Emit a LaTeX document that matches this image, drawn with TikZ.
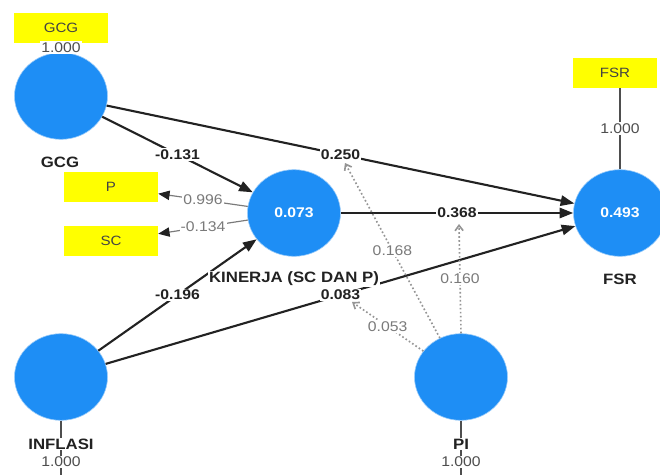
\documentclass[tikz,border=0pt]{standalone}
\usepackage{fontspec}
\setmainfont{Liberation Sans}[FakeStretch=1.12]
\usetikzlibrary{arrows.meta,shapes.geometric}
\definecolor{plsBlue}{HTML}{1E8EF5}
\definecolor{plsYellow}{HTML}{FFFF00}
\definecolor{plsInk}{HTML}{222222}
\definecolor{plsGray}{HTML}{7A7A7A}
\tikzset{
  latent/.style={ellipse,fill=plsBlue,draw=plsBlue!45,line width=.5pt,
    minimum width=2.79cm,minimum height=2.6cm,inner sep=0pt,
    text=white,font=\bfseries\fontsize{12}{14}\selectfont},
  indicator/.style={fill=plsYellow,minimum width=2.82cm,minimum height=.88cm,
    inner sep=0pt,text=plsInk!85,font=\fontsize{11.5}{13}\selectfont},
  varname/.style={fill=white,inner sep=1pt,text=plsInk,
    font=\bfseries\fontsize{12.8}{15}\selectfont},
  structural/.style={-{Triangle[length=4.1mm,width=3.1mm]},draw=plsInk,line width=1.8pt},
  outer/.style={-{Triangle[length=3.4mm,width=2.8mm,color=plsInk]},draw=plsGray,line width=1pt},
  loadline/.style={draw=plsInk!80,line width=.9pt},
  moderate/.style={-{Straight Barb[length=1.6mm,width=2.4mm]},draw=plsGray!80,
    dotted,line width=1.4pt},
  coef/.style={fill=white,inner sep=1pt,text=plsInk,
    font=\bfseries\fontsize{12}{14}\selectfont},
  loading/.style={fill=white,inner sep=1pt,text=plsGray,
    font=\fontsize{12}{14}\selectfont},
}
\begin{document}
\begin{tikzpicture}[x=0.03cm,y=-0.03cm]
  \useasboundingbox[fill=white] (0,0) rectangle (660,475);
  % latent variables
  \node[latent] (gcg) at (61,96) {};
  \node[latent] (kinerja) at (294,213) {0.073};
  \node[latent] (fsr) at (620,213) {0.493};
  \node[latent] (inflasi) at (61,377) {};
  \node[latent] (pi) at (461,377) {};
  % indicators
  \node[indicator] (gcgbox) at (61,28) {GCG};
  \node[indicator,minimum width=2.5cm] (fsrbox) at (615,73) {FSR};
  \node[indicator] (pbox) at (111,187) {P};
  \node[indicator] (scbox) at (111,241) {SC};
  \coordinate (inflasiout) at (61,480);
  \coordinate (piout) at (461,480);
  % outer model
  \draw[loadline] (gcgbox) -- (gcg) node[loading,midway,text=plsInk!80] {1.000};
  \draw[loadline] (fsrbox.south -| fsr.north) -- (fsr.north)
    node[loading,midway,text=plsInk!80] {1.000};
  \draw[loadline] (inflasi.south) -- (inflasiout);
  \draw[loadline] (pi.south) -- (piout);
  \draw[outer] (kinerja) -- node[loading] {0.996} (pbox);
  \draw[outer] (kinerja) -- node[loading] {-0.134} (scbox);
  % inner model
  \draw[structural] (gcg) -- node[coef] {-0.131} (kinerja);
  \draw[structural] (gcg) -- node[coef] {0.250} (fsr);
  \draw[structural] (kinerja) -- node[coef] {0.368} (fsr);
  \draw[structural] (inflasi) -- node[coef] {-0.196} (kinerja);
  \draw[structural] (inflasi) -- node[coef] {0.083} (fsr);
  % moderating effects
  \coordinate (modgcg) at (345,163);
  \coordinate (modkinerja) at (459,224);
  \coordinate (modinflasi) at (352,302);
  \draw[moderate] (pi) -- node[loading] {0.168} (modgcg);
  \draw[moderate] (pi.north) -- node[loading] {0.160} (modkinerja);
  \draw[moderate] (pi) -- node[loading] {0.053} (modinflasi);
  % variable names
  \node[varname] (gcgname) at (60,162) {GCG};
  \node[varname] (kinerjaname) at (294,279) {KINERJA (SC DAN P)};
  \node[varname] (fsrname) at (620,279) {FSR};
  \node[varname] (inflasiname) at (61,444) {INFLASI};
  \node[varname] (piname) at (461,444) {PI};
  \node[loading,text=plsInk!80] (inflasiload) at (61,462) {1.000};
  \node[loading,text=plsInk!80] (piload) at (461,462) {1.000};
\end{tikzpicture}
\end{document}
